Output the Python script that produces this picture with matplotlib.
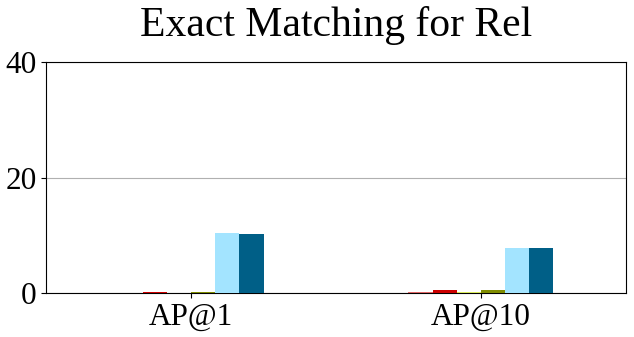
import matplotlib
matplotlib.use('Agg')
import matplotlib.pyplot as plt
import numpy as np

plt.rcParams['font.family'] = ['Liberation Serif', 'DejaVu Serif']

metrics = ['AP@1', 'AP@10']
colors = ['#e06666', '#cc0000', '#d9ea5a', '#7f8c00', '#a3e4ff', '#005f87']
# values per bar series, one per metric
series = [
    [0.0, 0.15],
    [0.2, 0.5],
    [0.0, 0.15],
    [0.15, 0.5],
    [10.4, 7.8],
    [10.2, 7.8],
]

fig, ax = plt.subplots(figsize=(6.34, 3.37), dpi=100)
x = np.arange(len(metrics))
w = 0.5 / len(series)
for i, (vals, c) in enumerate(zip(series, colors)):
    ax.bar(x + (i - (len(series) - 1) / 2) * w, vals, w, color=c, zorder=3)

ax.set_xlim(-0.5, 1.5)
ax.set_ylim(0, 40)
ax.set_yticks([0, 20, 40])
ax.set_xticks(x)
ax.set_xticklabels(metrics)
ax.tick_params(labelsize=22.5)
ax.yaxis.grid(True, color='#b0b0b0', linewidth=0.8, zorder=0)
ax.set_title('Exact Matching for Rel', fontsize=30, pad=19)
plt.subplots_adjust(left=0.073, right=0.987, top=0.816, bottom=0.13)
fig.savefig('out.png')
